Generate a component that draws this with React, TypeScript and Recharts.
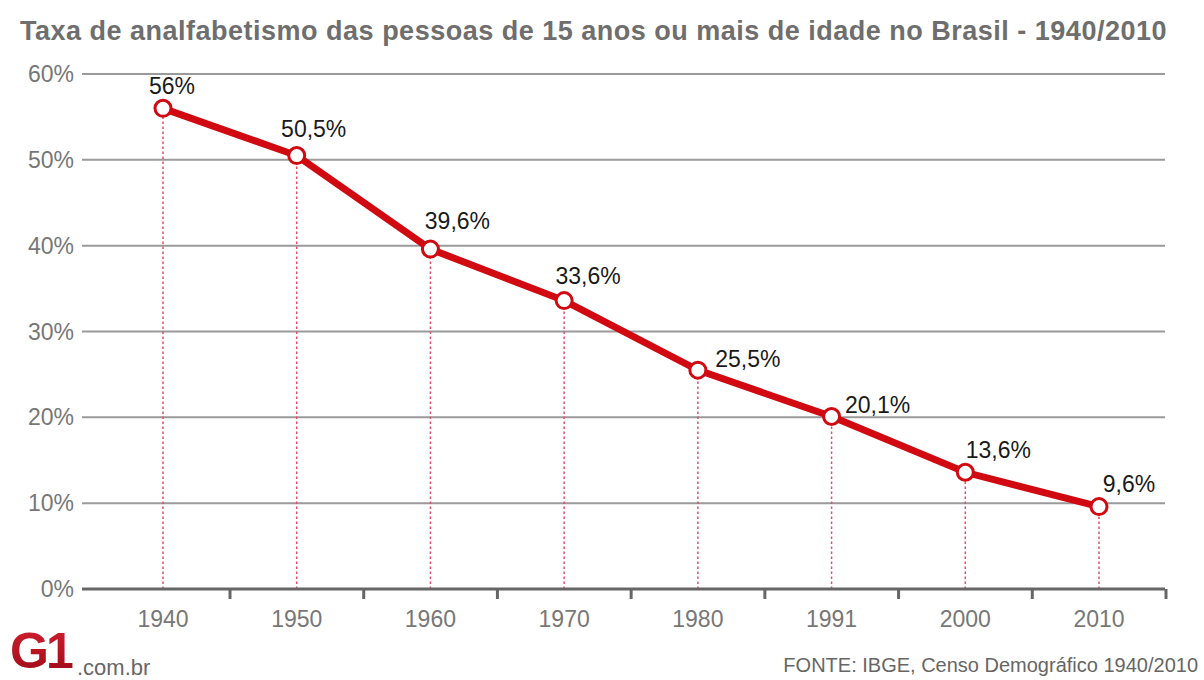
import React from 'react';
import { LineChart, Line, XAxis, YAxis, CartesianGrid, ReferenceLine, LabelList } from 'recharts';

const years = ['1940', '1950', '1960', '1970', '1980', '1991', '2000', '2010'];
const rates = [56, 50.5, 39.6, 33.6, 25.5, 20.1, 13.6, 9.6];
const rateLabels = ['56%', '50,5%', '39,6%', '33,6%', '25,5%', '20,1%', '13,6%', '9,6%'];
const yTicks = [0, 10, 20, 30, 40, 50, 60];

// label offsets from each point (dx, dy)
const labelOffsets = [
  [9, -22], [17, -27], [27, -28], [24, -25], [50, -11], [46, -11], [33, -22], [30, -23],
];

const data = years.map((year, i) => ({ year, rate: rates[i], label: rateLabels[i] }));

const RED = '#d10a11';
const FONT = '"Liberation Sans", Arial, sans-serif';

const XTick = (props: any) => {
  const { x, y, payload } = props;
  const half = 67;
  return (
    <g>
      <text x={x} y={y + 30} textAnchor="middle" fill="#777" fontSize={23} fontFamily={FONT}>
        {payload.value}
      </text>
      <line x1={x + half} x2={x + half} y1={y - 8} y2={y + 2} stroke="#666" strokeWidth={3} />
    </g>
  );
};

const PointLabel = (props: any) => {
  const { x, y, index, value } = props;
  const [dx, dy] = labelOffsets[index];
  return (
    <text x={x + dx} y={y + dy + 8} textAnchor="middle" fill="#1a1a1a" fontSize={23} fontFamily={FONT}>
      {value}
    </text>
  );
};

export default function App() {
  return (
    <div style={{ position: 'absolute', left: 0, top: 0, width: 1204, height: 680, background: '#fff', fontFamily: FONT }}>
      <div style={{ position: 'absolute', left: 20, top: 18, fontSize: 27, lineHeight: '27px', letterSpacing: 0.5, fontWeight: 'bold', color: '#6e6e6e', whiteSpace: 'nowrap' }}>
        Taxa de analfabetismo das pessoas de 15 anos ou mais de idade no Brasil - 1940/2010
      </div>
      <LineChart width={1204} height={680} data={data} margin={{ top: 74, right: 39, bottom: 0, left: 0 }}>
        <CartesianGrid vertical={false} stroke="#9a9a9a" strokeWidth={2} />
        <YAxis
          domain={[0, 60]}
          ticks={yTicks}
          width={82}
          axisLine={false}
          tickLine={false}
          tickFormatter={(v: number) => `${v}%`}
          tick={{ fill: '#777', fontSize: 23, fontFamily: FONT }}
        />
        <XAxis
          dataKey="year"
          height={91}
          padding={{ left: 81, right: 66 }}
          axisLine={{ stroke: '#666', strokeWidth: 3 }}
          tickLine={false}
          tick={<XTick />}
          interval={0}
        />
        {data.map((d) => (
          <ReferenceLine
            key={d.year}
            segment={[{ x: d.year, y: 0 }, { x: d.year, y: d.rate }]}
            stroke="#e0506a"
            strokeWidth={1.5}
            strokeDasharray="2.5 2.5"
          />
        ))}
        <Line
          dataKey="rate"
          stroke={RED}
          strokeWidth={7}
          dot={{ r: 8, fill: '#fff', stroke: RED, strokeWidth: 3 }}
          activeDot={false}
          isAnimationActive={false}
        >
          <LabelList dataKey="label" content={<PointLabel />} />
        </Line>
      </LineChart>
      <svg style={{ position: 'absolute', left: 0, top: 620 }} width={170} height={60}>
        <defs>
          <linearGradient id="g1grad" x1="0" y1="0" x2="0" y2="1">
            <stop offset="0%" stopColor="#d3202e" />
            <stop offset="100%" stopColor="#9a0a18" />
          </linearGradient>
        </defs>
        <text x={10} y={48} fontSize={50} fontWeight="bold" letterSpacing={-3} fontFamily={FONT} fill="url(#g1grad)">
          G1
        </text>
        <text x={77} y={55} fontSize={22} fill="#666" fontFamily={FONT}>
          .com.br
        </text>
      </svg>
      <div style={{ position: 'absolute', right: 6, top: 655, fontSize: 20, lineHeight: '20px', color: '#666', whiteSpace: 'nowrap' }}>
        FONTE: IBGE, Censo Demográfico 1940/2010
      </div>
    </div>
  );
}
